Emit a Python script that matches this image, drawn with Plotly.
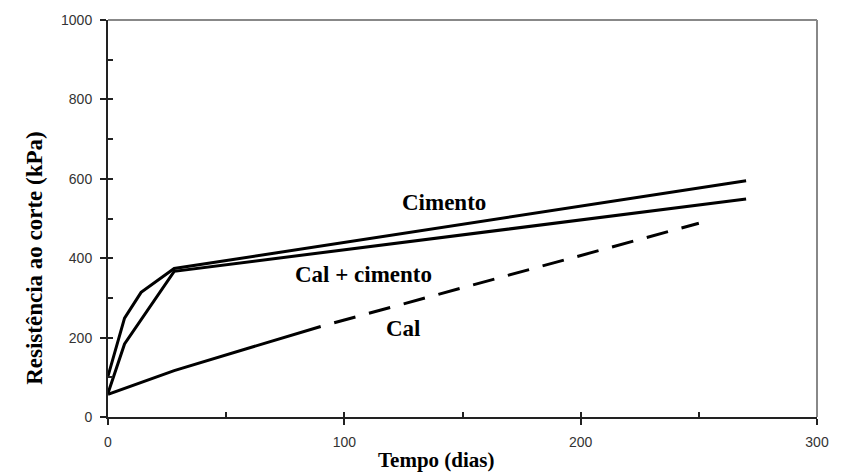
import plotly.graph_objects as go

# Data
cimento_x = [0, 7, 14, 28, 270]
cimento_y = [103, 249, 314, 374, 595]

calcim_x = [0, 7, 28, 270]
calcim_y = [60, 184, 367, 549]

cal_solid_x = [0, 28, 90]
cal_solid_y = [57, 117, 228]

cal_dash_x = [90, 250]
cal_dash_y = [228, 488]

labels = ["Cimento", "Cal + cimento", "Cal"]
label_x = [142, 108, 125]
label_y = [541, 358, 222]

x_ticks = [0, 100, 200, 300]
y_ticks = [0, 200, 400, 600, 800, 1000]

line_style = dict(color="black", width=3)

fig = go.Figure()
fig.add_trace(go.Scatter(x=cimento_x, y=cimento_y, mode="lines", line=line_style, showlegend=False))
fig.add_trace(go.Scatter(x=calcim_x, y=calcim_y, mode="lines", line=line_style, showlegend=False))
fig.add_trace(go.Scatter(x=cal_solid_x, y=cal_solid_y, mode="lines", line=line_style, showlegend=False))
fig.add_trace(go.Scatter(x=cal_dash_x, y=cal_dash_y, mode="lines",
                         line=dict(color="black", width=3, dash="0px,14px,22px,0px"),
                         showlegend=False))
# invisible trace on overlay axes so they render
fig.add_trace(go.Scatter(x=[0], y=[0], xaxis="x2", yaxis="y2", mode="markers",
                         marker=dict(opacity=0), showlegend=False, hoverinfo="skip"))

for t, x, y in zip(labels, label_x, label_y):
    fig.add_annotation(x=x, y=y, text=f"<b>{t}</b>", showarrow=False,
                       font=dict(family="Liberation Serif", size=23, color="black"))

tickfont = dict(family="Liberation Sans", size=14, color="#333333")

fig.update_layout(
    width=841, height=475,
    margin=dict(l=108, r=16, t=20, b=58),
    paper_bgcolor="white", plot_bgcolor="white",
    xaxis=dict(range=[0, 300], tickvals=x_ticks, ticks="outside", ticklen=6, tickwidth=2,
               tickcolor="#222", showline=True, linecolor="#222", linewidth=2,
               showgrid=False, zeroline=False, tickfont=tickfont, ticklabelstandoff=5),
    yaxis=dict(range=[0, 1000], tickvals=y_ticks, ticks="outside", ticklen=6, tickwidth=2,
               tickcolor="#222", showline=True, linecolor="#222", linewidth=2,
               showgrid=False, zeroline=False, tickfont=tickfont, ticklabelstandoff=5),
    xaxis2=dict(range=[0, 300], overlaying="x", anchor="y", dtick=50, tick0=0, ticks="inside",
                ticklen=5, tickwidth=1.5, tickcolor="#222", showticklabels=False,
                showgrid=False, zeroline=False, showline=False),
    yaxis2=dict(range=[0, 1000], overlaying="y", anchor="x", dtick=100, tick0=0, ticks="inside",
                ticklen=5, tickwidth=1.5, tickcolor="#222", showticklabels=False,
                showgrid=False, zeroline=False, showline=False),
)

# gray top and right frame
fig.add_shape(type="line", xref="paper", yref="paper", x0=0, x1=1, y0=1, y1=1,
              line=dict(color="#888888", width=2))
fig.add_shape(type="line", xref="paper", yref="paper", x0=1, x1=1, y0=0, y1=1,
              line=dict(color="#888888", width=2))

# axis titles
fig.add_annotation(xref="paper", yref="paper",
                   x=(440 - 108) / (825 - 108), y=-(460 - 417) / (417 - 20),
                   xanchor="center", yanchor="middle",
                   text="<b>Tempo (dias)</b>", showarrow=False,
                   font=dict(family="Liberation Serif", size=21, color="black"))
fig.add_annotation(xref="paper", yref="paper", x=-(108 - 33) / (825 - 108),
                   y=(417 - 258) / (417 - 20), xanchor="center", yanchor="middle",
                   text="<b>Resistência ao corte (kPa)</b>",
                   textangle=-90, showarrow=False,
                   font=dict(family="Liberation Serif", size=23, color="black"))

fig.write_html("out.html")
